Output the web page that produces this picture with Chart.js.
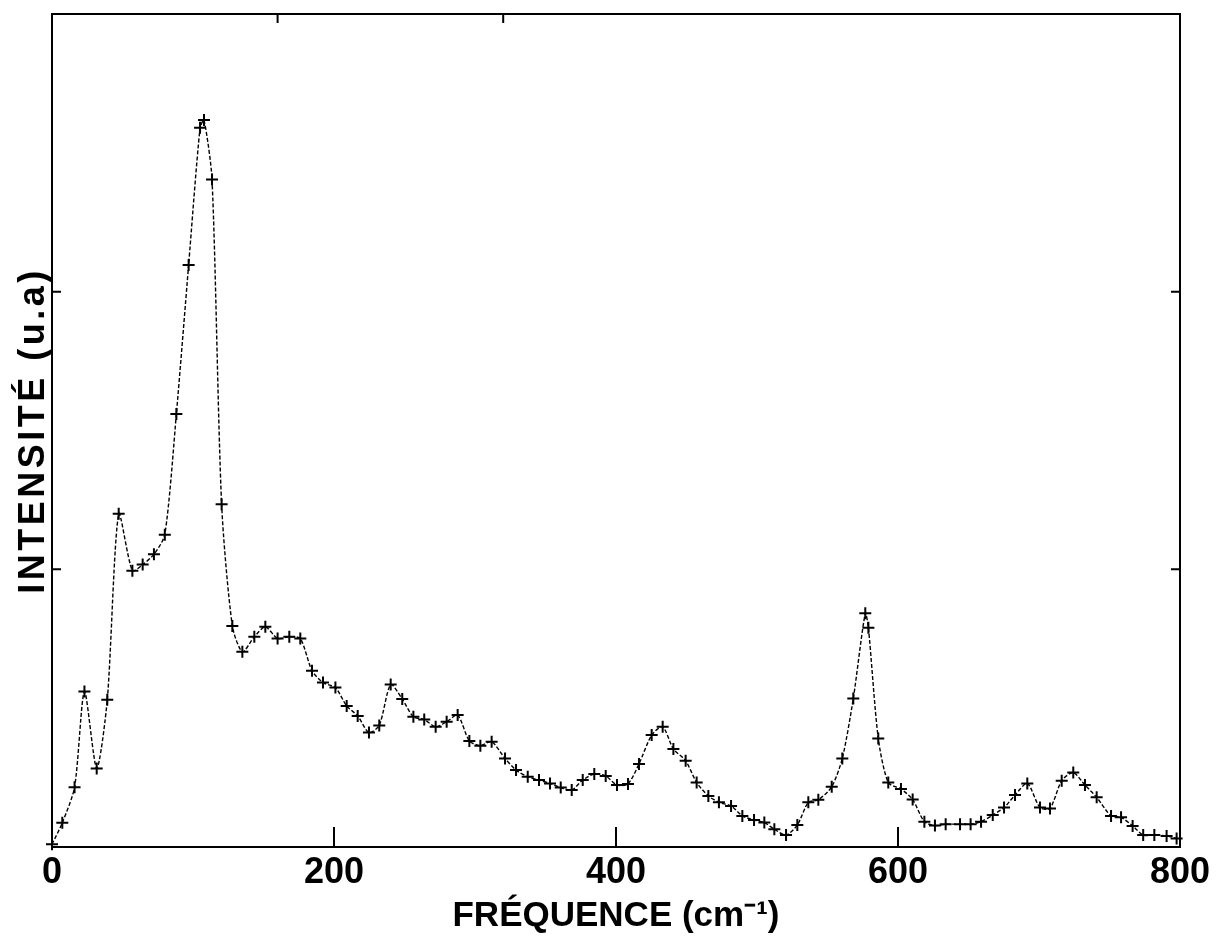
<!DOCTYPE html>
<html>
<head>
<meta charset="utf-8">
<script src="https://cdn.jsdelivr.net/npm/chart.js@4"></script>
<style>
  html, body { margin: 0; padding: 0; background: #fff; }
  canvas { display: block; }
</style>
</head>
<body>
<canvas id="chart" width="1218" height="946"></canvas>
<script>
// fréquence (cm-1) des points mesurés
const FREQ = [
  0, 7.3, 16, 23, 31.7, 39.2, 47.3, 57, 64.3, 72.3, 80, 88.2, 96.9, 105, 107.8, 113.5,
  120.3, 127.9, 135, 143.5, 151.3, 160, 168.3, 176.1, 184.4, 192.2, 201, 209, 216.8,
  224.8, 232.1, 240.2, 248.4, 256.3, 264, 272.1, 279.9, 287.7, 296, 303.8, 311.8,
  321.3, 329.1, 337.4, 345.4, 353.2, 360.8, 368.6, 376.4, 384.6, 392.7, 400.7, 408.5,
  416.3, 425.3, 433.1, 440.7, 449.4, 457.2, 465.5, 473, 481.6, 489.6, 497.9, 505.2,
  512.3, 520.6, 528.6, 536.4, 543.5, 553, 560.5, 568.3, 576.8, 579, 586, 593.1, 602.1,
  610.4, 618.7, 626.2, 633.8, 644, 651.5, 658.9, 667.2, 675.2, 683, 691.7, 700.7,
  707.8, 716.1, 724.3, 732.6, 740.9, 751.1, 758.2, 766.4, 773.9, 781.8, 790.5, 797.6,
];

// intensité (u.a)
const INTENSITY = [
  0.01, 0.087, 0.215, 0.56, 0.283, 0.53, 1.2, 0.995, 1.017, 1.054, 1.125, 1.559, 2.096, 2.59, 2.618, 2.404,
  1.234, 0.796, 0.703, 0.757, 0.793, 0.751, 0.757, 0.751, 0.635, 0.592, 0.574, 0.508, 0.472,
  0.412, 0.438, 0.585, 0.533, 0.469, 0.459, 0.433, 0.451, 0.475, 0.382, 0.365, 0.379,
  0.319, 0.277, 0.253, 0.241, 0.229, 0.214, 0.205, 0.241, 0.263, 0.256, 0.223, 0.227,
  0.299, 0.403, 0.433, 0.353, 0.311, 0.232, 0.184, 0.161, 0.148, 0.112, 0.097, 0.088,
  0.064, 0.043, 0.079, 0.161, 0.17, 0.217, 0.319, 0.535, 0.842, 0.79, 0.391, 0.232, 0.209,
  0.171, 0.091, 0.077, 0.082, 0.082, 0.082, 0.091, 0.115, 0.142, 0.187, 0.229, 0.142,
  0.139, 0.239, 0.268, 0.223, 0.179, 0.112, 0.107, 0.076, 0.043, 0.043, 0.04, 0.031,
];

const X_TICKS = [0, 200, 400, 600, 800];
const BOTTOM_MARKS = [200, 400, 600];
const TOP_MARKS = [160, 320];
const SIDE_MARKS = [1, 2];

const FONT = "'Liberation Sans', Arial, sans-serif";

// cadre + petites graduations vers l'intérieur
const framePlugin = {
  id: 'frame',
  afterLayout(chart) {
    // titre vertical plus espacé, comme sur l'original
    const y = chart.scales.y;
    if (!y._spaced) {
      const orig = y.drawTitle.bind(y);
      y.drawTitle = (...args) => {
        const ctx = chart.ctx;
        const prev = ctx.letterSpacing;
        ctx.letterSpacing = '3.5px';
        orig(...args);
        ctx.letterSpacing = prev;
      };
      y._spaced = true;
    }
  },
  afterDraw(chart) {
    const { ctx, chartArea: a, scales } = chart;
    ctx.save();
    ctx.strokeStyle = '#000';
    ctx.lineWidth = 2;
    ctx.strokeRect(a.left, a.top, a.right - a.left, a.bottom - a.top);
    ctx.beginPath();
    BOTTOM_MARKS.forEach((v) => {
      const x = scales.x.getPixelForValue(v);
      ctx.moveTo(x, a.bottom);
      ctx.lineTo(x, a.bottom - 20);
    });
    TOP_MARKS.forEach((v) => {
      const x = scales.x.getPixelForValue(v);
      ctx.moveTo(x, a.top);
      ctx.lineTo(x, a.top + 9);
    });
    SIDE_MARKS.forEach((v) => {
      const y = scales.y.getPixelForValue(v);
      ctx.moveTo(a.left, y);
      ctx.lineTo(a.left + 9, y);
      ctx.moveTo(a.right, y);
      ctx.lineTo(a.right - 9, y);
    });
    ctx.stroke();
    ctx.restore();
  },
};

new Chart(document.getElementById('chart').getContext('2d'), {
  type: 'line',
  data: {
    datasets: [
      {
        data: FREQ.map((f, i) => ({ x: f, y: INTENSITY[i] })),
        borderColor: '#000',
        borderWidth: 1.4,
        borderDash: [4, 2],
        tension: 0.25,
        pointStyle: 'cross',
        pointRadius: 6,
        pointBorderWidth: 2,
        pointBorderColor: '#000',
        pointBackgroundColor: '#000',
        clip: false,
      },
    ],
  },
  options: {
    responsive: false,
    animation: false,
    events: [],
    layout: { padding: { top: 14, right: 38, left: 0, bottom: 0 } },
    plugins: {
      legend: { display: false },
      tooltip: { enabled: false },
    },
    scales: {
      x: {
        type: 'linear',
        min: 0,
        max: 800,
        afterBuildTicks: (scale) => {
          scale.ticks = X_TICKS.map((v) => ({ value: v }));
        },
        afterFit: (scale) => {
          scale.height = 99;
        },
        grid: { display: false, drawTicks: false },
        border: { display: false },
        ticks: {
          color: '#000',
          padding: 4,
          maxRotation: 0,
          font: { family: FONT, size: 36, weight: 'bold' },
        },
        title: {
          display: true,
          text: 'FRÉQUENCE (cm⁻¹)',
          color: '#000',
          font: { family: FONT, size: 35, weight: 'bold' },
          padding: { top: 0, bottom: 9 },
        },
      },
      y: {
        min: 0,
        max: 3,
        afterFit: (scale) => {
          scale.width = 52;
        },
        grid: { display: false, drawTicks: false },
        border: { display: false },
        ticks: { display: false },
        title: {
          display: true,
          text: 'INTENSITÉ (u.a)',
          color: '#000',
          font: { family: FONT, size: 36, weight: 'bold' },
          padding: { top: 12, bottom: 0 },
        },
      },
    },
  },
  plugins: [framePlugin],
});
</script>
</body>
</html>
